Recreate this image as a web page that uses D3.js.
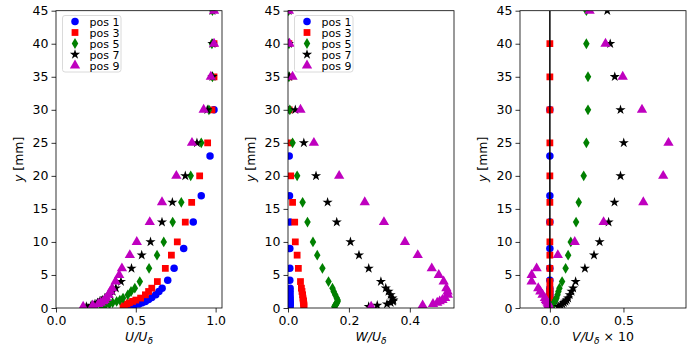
<!DOCTYPE html>
<html>
<head>
<meta charset="utf-8">
<script src="https://cdn.jsdelivr.net/npm/d3@7"></script>
<style>
  body { margin: 0; background: #fff; }
  text { font-family: "DejaVu Sans", sans-serif; }
</style>
</head>
<body>
<div id="wrapper"></div>
<script>
// data
const seriesNames = ["pos 1", "pos 3", "pos 5", "pos 7", "pos 9"]
const yTicks = [0, 5, 10, 15, 20, 25, 30, 35, 40, 45]

const pos1Y = [0.2, 0.4, 0.6, 0.8, 1.0, 1.3, 1.6, 2.0, 2.5, 3.0, 4.2, 6, 9, 13, 17, 23, 30]
const pos1U = [0.45, 0.49, 0.52, 0.54, 0.56, 0.58, 0.60, 0.625, 0.645, 0.665, 0.70, 0.74, 0.80, 0.86, 0.91, 0.965, 0.99]
const pos1W = [0.007, 0.007, 0.007, 0.007, 0.007, 0.007, 0.007, 0.007, 0.007, 0.007, 0.006, 0.006, 0.006, 0.006, 0.005, 0.004, 0.003]
const pos1V = [0, 0, 0, 0, 0, 0, 0, 0, 0, 0, 0, 0, 0, 0, 0, 0, 0]

const pos3Y = [0.2, 0.4, 0.6, 0.8, 1.0, 1.2, 1.5, 2.0, 2.5, 3.0, 4, 6, 8, 10, 13, 16, 20, 25, 30, 35, 40]
const pos3U = [0.42, 0.43, 0.445, 0.46, 0.48, 0.50, 0.53, 0.56, 0.58, 0.60, 0.635, 0.685, 0.723, 0.76, 0.81, 0.85, 0.90, 0.95, 0.977, 0.99, 0.99]
const pos3W = [0.052, 0.052, 0.052, 0.051, 0.051, 0.05, 0.049, 0.048, 0.046, 0.044, 0.041, 0.034, 0.03, 0.024, 0.022, 0.015, 0.009, 0.006, 0.004, 0.003, 0.003]
const pos3V = [0, 0, 0, 0, 0, 0, 0, 0, 0, 0, 0, 0, 0, 0, 0, 0, 0, 0, 0, 0, 0]

const pos5Y = [0.2, 0.4, 0.6, 0.8, 1.0, 1.2, 1.5, 2.0, 2.5, 3.0, 4, 6, 8, 10, 13, 16, 20, 25, 30, 35, 40, 45]
const pos5U = [0.285, 0.31, 0.335, 0.355, 0.38, 0.40, 0.42, 0.45, 0.47, 0.494, 0.525, 0.583, 0.633, 0.675, 0.731, 0.785, 0.844, 0.91, 0.958, 0.98, 0.977, 0.98]
const pos5W = [0.152, 0.155, 0.158, 0.161, 0.163, 0.163, 0.16, 0.155, 0.15, 0.146, 0.133, 0.113, 0.096, 0.082, 0.064, 0.048, 0.03, 0.015, 0.006, 0.003, 0.003, 0.002]
const pos5V = [0.016, 0.02, 0.023, 0.028, 0.033, 0.038, 0.045, 0.052, 0.058, 0.065, 0.083, 0.107, 0.124, 0.142, 0.178, 0.196, 0.23, 0.248, 0.259, 0.259, 0.248, 0.248]

const pos7Y = [0.2, 0.4, 0.6, 0.8, 1.0, 1.2, 1.5, 2.0, 2.5, 3.0, 4, 6, 8, 10, 13, 16, 20, 25, 30, 35, 40, 45]
const pos7U = [0.19, 0.22, 0.244, 0.26, 0.275, 0.29, 0.306, 0.338, 0.355, 0.375, 0.407, 0.473, 0.537, 0.592, 0.664, 0.729, 0.81, 0.883, 0.948, 0.98, 0.98, 0.98]
const pos7W = [0.265, 0.293, 0.325, 0.337, 0.345, 0.346, 0.343, 0.337, 0.33, 0.321, 0.305, 0.265, 0.233, 0.205, 0.16, 0.13, 0.092, 0.052, 0.024, 0.004, 0.003, 0.002]
const pos7V = [0.056, 0.074, 0.085, 0.095, 0.106, 0.115, 0.124, 0.135, 0.147, 0.158, 0.175, 0.238, 0.3, 0.338, 0.399, 0.439, 0.48, 0.502, 0.48, 0.441, 0.41, 0.39]

const pos9Y = [0.2, 0.4, 0.6, 0.8, 1.0, 1.2, 1.5, 2.0, 2.5, 3.0, 4, 5, 6, 8, 10, 13, 16, 20, 25, 30, 35, 40, 45]
const pos9U = [0.17, 0.23, 0.265, 0.28, 0.296, 0.305, 0.317, 0.33, 0.34, 0.352, 0.373, 0.396, 0.413, 0.4625, 0.506, 0.5875, 0.664, 0.754, 0.852, 0.925, 0.97, 0.99, 0.99]
const pos9W = [0.273, 0.442, 0.476, 0.49, 0.498, 0.507, 0.516, 0.525, 0.524, 0.52, 0.511, 0.495, 0.472, 0.426, 0.384, 0.315, 0.252, 0.168, 0.085, 0.041, 0.015, 0.005, 0.003]
const pos9V = [-0.005, -0.008, -0.011, -0.015, -0.022, -0.027, -0.034, -0.05, -0.065, -0.079, -0.124, -0.124, -0.09, 0.054, 0.169, 0.365, 0.635, 0.77, 0.806, 0.626, 0.495, 0.378, 0.27]

const colors = ["#0000ff", "#ff0000", "#008000", "#000000", "#bf00bf"]

const thinDiamond = {
  draw(ctx, size) {
    const h = Math.sqrt(size) * 0.75, w = h * 0.6
    ctx.moveTo(0, -h); ctx.lineTo(w, 0); ctx.lineTo(0, h); ctx.lineTo(-w, 0); ctx.closePath()
  }
}
const symbols = [
  d3.symbol(d3.symbolCircle, 44),
  d3.symbol(d3.symbolSquare, 46),
  d3.symbol(thinDiamond, 52),
  d3.symbol(d3.symbolStar, 32),
  d3.symbol(d3.symbolTriangle, 46),
]

const series = [
  { y: pos1Y, u: pos1U, w: pos1W, v: pos1V },
  { y: pos3Y, u: pos3U, w: pos3W, v: pos3V },
  { y: pos5Y, u: pos5U, w: pos5W, v: pos5V },
  { y: pos7Y, u: pos7U, w: pos7W, v: pos7V },
  { y: pos9Y, u: pos9U, w: pos9W, v: pos9V },
].map((s, i) => ({ ...s, name: seriesNames[i], color: colors[i], symbol: symbols[i] }))

const panels = [
  { key: "u", left: 56, domain: [0, 1.04], ticks: [0, 0.5, 1.0], letter: "U", suffix: "", legend: true },
  { key: "w", left: 288, domain: [0, 0.545], ticks: [0, 0.2, 0.4], letter: "W", suffix: "", legend: true },
  { key: "v", left: 520, domain: [-0.203, 0.925], ticks: [0, 0.5], letter: "V", suffix: " \u00d7 10", legend: false },
]

const dimensions = { width: 700, height: 350, top: 10.7, bottom: 308, panelWidth: 166 }

const svg = d3.select("#wrapper").append("svg")
    .attr("width", dimensions.width)
    .attr("height", dimensions.height)

const yScale = d3.scaleLinear().domain([0, 45]).range([dimensions.bottom, dimensions.top])
const boundedHeight = dimensions.bottom - dimensions.top

panels.forEach((p, pi) => {
  const xScale = d3.scaleLinear().domain(p.domain).range([p.left, p.left + dimensions.panelWidth])

  const clipId = `clip-${pi}`
  svg.append("clipPath").attr("id", clipId)
    .append("rect")
      .attr("x", p.left).attr("y", dimensions.top)
      .attr("width", dimensions.panelWidth).attr("height", boundedHeight)

  const marks = svg.append("g").attr("clip-path", `url(#${clipId})`)

  series.forEach(s => {
    marks.append("g")
      .selectAll("path")
      .data(s.y.map((y, i) => ({ y, x: s[p.key][i] })))
      .join("path")
        .attr("d", s.symbol)
        .attr("transform", d => `translate(${xScale(d.x)},${yScale(d.y)})`)
        .attr("fill", s.color)
  })

  if (p.key == "v") {
    marks.append("line")
        .attr("x1", xScale(0)).attr("x2", xScale(0))
        .attr("y1", yScale(0)).attr("y2", yScale(45))
        .attr("stroke", "#000")
        .attr("stroke-width", 1.5)
  }

  // axes
  const yAxis = svg.append("g")
      .attr("transform", `translate(${p.left},0)`)
    .call(d3.axisLeft(yScale).tickValues(yTicks).tickSize(4.5).tickPadding(3))
  const xAxis = svg.append("g")
      .attr("transform", `translate(0,${dimensions.bottom})`)
    .call(d3.axisBottom(xScale).tickValues(p.ticks).tickFormat(d3.format(".1f")).tickSize(4.5).tickPadding(3.5))
  ;[xAxis, yAxis].forEach(a => {
    a.select(".domain").remove()
    a.selectAll("text").attr("font-size", 12.5).attr("fill", "#000")
      .style("font-family", "'DejaVu Sans', sans-serif")
    a.selectAll("line").attr("stroke", "#000").attr("stroke-width", 0.8)
  })

  svg.append("rect")
      .attr("x", p.left).attr("y", dimensions.top)
      .attr("width", dimensions.panelWidth).attr("height", boundedHeight)
      .attr("fill", "none")
      .attr("stroke", "#000")
      .attr("stroke-width", 0.8)

  // axis labels
  const xLabel = svg.append("text")
      .attr("x", p.left + dimensions.panelWidth / 2)
      .attr("y", 341)
      .attr("text-anchor", "middle")
      .attr("font-size", 12.5)
  xLabel.append("tspan").attr("font-style", "italic").text(`${p.letter}/U`)
  xLabel.append("tspan").attr("font-style", "italic").attr("font-size", 9).attr("dy", 3).text("\u03b4")
  if (p.suffix) xLabel.append("tspan").attr("dy", -3).text(p.suffix)

  const yLabel = svg.append("text")
      .attr("transform", `translate(${p.left - 33},${(dimensions.top + dimensions.bottom) / 2}) rotate(-90)`)
      .attr("text-anchor", "middle")
      .attr("font-size", 12.5)
  yLabel.append("tspan").attr("font-style", "italic").text("y")
  yLabel.append("tspan").text(" [mm]")

  // legend
  if (p.legend) {
    const lx = p.left + 6.5, ly = 15.5
    const legend = svg.append("g").attr("transform", `translate(${lx},${ly})`)
    legend.append("rect")
        .attr("width", 58.5).attr("height", 56.5)
        .attr("rx", 2.5)
        .attr("fill", "#fff").attr("fill-opacity", 0.8)
        .attr("stroke", "#d0d0d0").attr("stroke-width", 0.8)
    series.forEach((s, i) => {
      const row = legend.append("g").attr("transform", `translate(0,${6 + i * 11})`)
      row.append("path")
          .attr("d", s.symbol)
          .attr("transform", "translate(12.5,0)")
          .attr("fill", s.color)
      row.append("text")
          .attr("x", 27)
          .attr("y", 4)
          .attr("font-size", 11)
          .text(s.name)
    })
  }
})
</script>
</body>
</html>
